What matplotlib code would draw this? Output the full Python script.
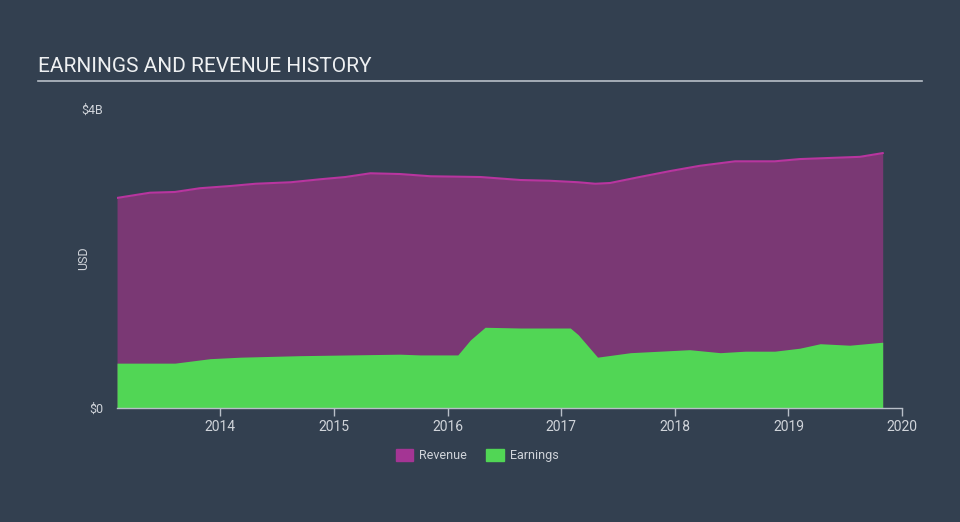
import matplotlib.pyplot as plt
import matplotlib.patches as mpatches

plt.rcParams['font.family'] = ['Roboto', 'DejaVu Sans']

# dates as fractional years, values in billions USD
rev_dates = [2013.09, 2013.38, 2013.60, 2013.82, 2014.09, 2014.31, 2014.62, 2014.88,
             2015.10, 2015.32, 2015.58, 2015.85, 2016.29, 2016.64, 2016.90, 2017.15,
             2017.30, 2017.43, 2017.69, 2017.96, 2018.22, 2018.53, 2018.88, 2019.10,
             2019.63, 2019.83]
revenue = [2.81, 2.88, 2.89, 2.94, 2.97, 3.00, 3.02, 3.06,
           3.09, 3.14, 3.13, 3.10, 3.09, 3.05, 3.04, 3.02,
           3.00, 3.01, 3.09, 3.17, 3.24, 3.30, 3.30, 3.33,
           3.36, 3.41]

earn_dates = [2013.09, 2013.60, 2013.91, 2014.18, 2014.70, 2015.14, 2015.58, 2015.76,
              2016.09, 2016.20, 2016.33, 2016.64, 2017.08, 2017.15, 2017.32, 2017.61,
              2017.87, 2018.13, 2018.40, 2018.62, 2018.88, 2019.10, 2019.28, 2019.54,
              2019.83]
earnings = [0.60, 0.60, 0.66, 0.68, 0.70, 0.71, 0.72, 0.71,
            0.71, 0.91, 1.08, 1.07, 1.07, 0.98, 0.68, 0.74,
            0.76, 0.78, 0.74, 0.76, 0.76, 0.80, 0.86, 0.84,
            0.88]

years = [2014, 2015, 2016, 2017, 2018, 2019, 2020]

bg = '#334050'
txt = '#d0d4da'

fig = plt.figure(figsize=(9.6, 5.22), dpi=100)
fig.patch.set_facecolor(bg)
ax = fig.add_axes([0.1219, 0.2184, 0.8177, 0.5728])
ax.set_facecolor(bg)

ax.fill_between(rev_dates, revenue, color='#7a3874', lw=0)
ax.plot(rev_dates, revenue, color='#b8359f', lw=1.5)
ax.fill_between(earn_dates, earnings, color='#51d655', lw=0)

ax.set_xlim(2013.09, 2020.0)
ax.set_ylim(0, 4)
ax.set_yticks([0, 4])
ax.set_yticklabels(['$0', '$4B'])
ax.set_xticks(years)
ax.set_xticklabels([str(y) for y in years])

for s in ['top', 'right', 'left']:
    ax.spines[s].set_visible(False)
ax.spines['bottom'].set_color('#b8bfc8')
ax.spines['bottom'].set_linewidth(1)
ax.tick_params(axis='x', colors='#b8bfc8', length=6, width=1, labelcolor=txt,
               labelsize=10, pad=3)
ax.tick_params(axis='y', length=0, labelcolor=txt, labelsize=9, pad=10)
ax.set_ylabel('')
fig.text(0.0875, 0.505, 'USD', color=txt, fontsize=9, rotation=90,
         ha='center', va='center')

fig.text(0.04, 0.855, 'EARNINGS AND REVENUE HISTORY', color='#eef0f2',
         fontsize=15, va='bottom')
fig.add_artist(plt.Line2D([0.04, 0.96], [0.845, 0.845], color='#b8bfc8', lw=1.2))

handles = [mpatches.Patch(color='#a43594', label='Revenue'),
           mpatches.Patch(color='#51d655', label='Earnings')]
fig.legend(handles=handles, loc='center', bbox_to_anchor=(0.497, 0.127), ncol=2,
           frameon=False, labelcolor=txt, fontsize=9, handlelength=1.4,
           handleheight=1.1, columnspacing=1.5, handletextpad=0.5)

fig.savefig('out.png', dpi=100, facecolor=bg)
